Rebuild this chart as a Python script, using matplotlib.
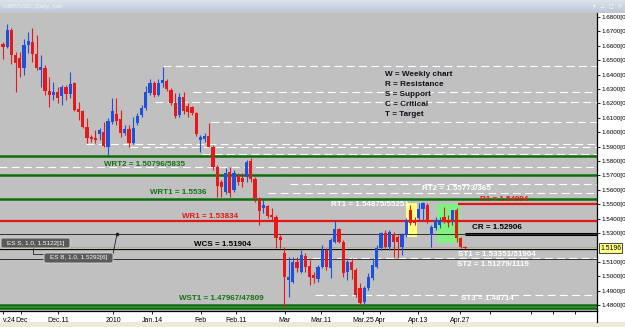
import matplotlib
matplotlib.use("Agg")
import matplotlib.pyplot as plt
from matplotlib.patches import Rectangle, FancyBboxPatch
from matplotlib.lines import Line2D
import numpy as np

plt.rcParams['font.family'] = ['Liberation Sans', 'DejaVu Sans']

# ---------------- data (GBP/USD daily) ----------------
opens = [1.6610, 1.6590, 1.6710, 1.6536, 1.6513, 1.6444, 1.6606, 1.6628, 1.6541, 1.6432,
         1.6448, 1.6286, 1.6258, 1.6277, 1.6253, 1.6316, 1.6263, 1.6340, 1.6159, 1.6147,
         1.6038, 1.5969, 1.5962, 1.5985, 1.6004, 1.5899, 1.6073, 1.6126, 1.6090, 1.5992,
         1.6022, 1.5927, 1.6066, 1.6119, 1.6166, 1.6274, 1.6340, 1.6258, 1.6340, 1.6358,
         1.6293, 1.6201, 1.6119, 1.6247, 1.6182, 1.6173, 1.6131, 1.5946, 1.5951, 1.5974,
         1.5899, 1.5760, 1.5656, 1.5587, 1.5726, 1.5599, 1.5696, 1.5684, 1.5691, 1.5800,
         1.5673, 1.5541, 1.5472, 1.5488, 1.5425, 1.5409, 1.5270, 1.5159, 1.4974, 1.4962,
         1.5101, 1.5031, 1.5140, 1.5071, 1.5008, 1.4979, 1.5066, 1.5182, 1.5055, 1.5240,
         1.5326, 1.5240, 1.5031, 1.5101, 1.5043, 1.4916, 1.4823, 1.4916, 1.4985, 1.5066,
         1.5194, 1.5298, 1.5205, 1.5293, 1.5274, 1.5205, 1.5286, 1.5460, 1.5390, 1.5402,
         1.5465, 1.5494, 1.5286, 1.5335, 1.5356, 1.5409, 1.5385, 1.5390, 1.5460, 1.5263,
         1.5203]
highs = [1.6628, 1.6749, 1.6726, 1.6559, 1.6559, 1.6647, 1.6698, 1.6722, 1.6675, 1.6536,
         1.6467, 1.6385, 1.6351, 1.6316, 1.6328, 1.6328, 1.6416, 1.6349, 1.6212, 1.6154,
         1.6097, 1.5981, 1.6015, 1.6029, 1.6071, 1.6097, 1.6235, 1.6238, 1.6154, 1.6050,
         1.6050, 1.6108, 1.6131, 1.6189, 1.6321, 1.6367, 1.6358, 1.6367, 1.6455, 1.6367,
         1.6305, 1.6270, 1.6270, 1.6281, 1.6201, 1.6182, 1.6142, 1.5981, 1.5992, 1.6062,
         1.5911, 1.5772, 1.5668, 1.5749, 1.5760, 1.5738, 1.5719, 1.5715, 1.5807, 1.5821,
         1.5691, 1.5552, 1.5529, 1.5494, 1.5472, 1.5425, 1.5286, 1.5201, 1.5135, 1.5135,
         1.5135, 1.5182, 1.5159, 1.5113, 1.5031, 1.5078, 1.5217, 1.5194, 1.5263, 1.5390,
         1.5333, 1.5251, 1.5113, 1.5124, 1.5055, 1.4953, 1.4932, 1.5022, 1.5126, 1.5217,
         1.5309, 1.5321, 1.5321, 1.5309, 1.5286, 1.5298, 1.5402, 1.5494, 1.5413, 1.5506,
         1.5517, 1.5506, 1.5356, 1.5411, 1.5413, 1.5483, 1.5425, 1.5460, 1.5472, 1.5274,
         1.5210]
lows = [1.6506, 1.6583, 1.6472, 1.6277, 1.6385, 1.6397, 1.6548, 1.6490, 1.6432, 1.6316,
        1.6258, 1.6177, 1.6224, 1.6201, 1.6189, 1.6224, 1.6235, 1.6147, 1.6085, 1.6029,
        1.5923, 1.5932, 1.5923, 1.5946, 1.5897, 1.5842, 1.6055, 1.6050, 1.5969, 1.5981,
        1.5899, 1.5918, 1.6050, 1.6108, 1.6154, 1.6258, 1.6247, 1.6251, 1.6316, 1.6288,
        1.6189, 1.6097, 1.6108, 1.6126, 1.6108, 1.6119, 1.5974, 1.5865, 1.5934, 1.5895,
        1.5738, 1.5552, 1.5552, 1.5571, 1.5552, 1.5585, 1.5633, 1.5622, 1.5656, 1.5656,
        1.5517, 1.5356, 1.5437, 1.5402, 1.5390, 1.5194, 1.5194, 1.4788, 1.4858, 1.4955,
        1.5031, 1.5020, 1.5031, 1.4939, 1.4955, 1.4962, 1.5055, 1.5043, 1.4985, 1.5228,
        1.5228, 1.4997, 1.4974, 1.4979, 1.4858, 1.4800, 1.4807, 1.4904, 1.4974, 1.5057,
        1.5182, 1.5194, 1.5182, 1.5131, 1.5124, 1.5147, 1.5274, 1.5356, 1.5356, 1.5390,
        1.5390, 1.5367, 1.5201, 1.5321, 1.5335, 1.5367, 1.5344, 1.5356, 1.5240, 1.5194,
        1.5189]
closes = [1.6590, 1.6710, 1.6536, 1.6478, 1.6444, 1.6606, 1.6633, 1.6541, 1.6448, 1.6455,
          1.6286, 1.6258, 1.6281, 1.6240, 1.6316, 1.6265, 1.6335, 1.6154, 1.6142, 1.6038,
          1.5962, 1.5953, 1.5946, 1.6015, 1.5906, 1.6078, 1.6147, 1.6078, 1.5992, 1.6022,
          1.5927, 1.6027, 1.6115, 1.6166, 1.6281, 1.6340, 1.6258, 1.6344, 1.6363, 1.6298,
          1.6201, 1.6113, 1.6247, 1.6149, 1.6142, 1.6131, 1.5988, 1.5965, 1.5974, 1.5899,
          1.5760, 1.5626, 1.5617, 1.5719, 1.5576, 1.5715, 1.5656, 1.5656, 1.5795, 1.5673,
          1.5541, 1.5455, 1.5494, 1.5418, 1.5409, 1.5263, 1.5251, 1.4997, 1.4997, 1.5101,
          1.5055, 1.5147, 1.5066, 1.4997, 1.4985, 1.5066, 1.5182, 1.5062, 1.5251, 1.5326,
          1.5240, 1.5020, 1.5101, 1.5043, 1.4869, 1.4812, 1.4916, 1.4997, 1.5078, 1.5194,
          1.5298, 1.5205, 1.5307, 1.5240, 1.5240, 1.5286, 1.5390, 1.5367, 1.5367, 1.5465,
          1.5506, 1.5379, 1.5344, 1.5390, 1.5390, 1.5385, 1.5367, 1.5460, 1.5263, 1.5205,
          1.5196]

price_ticks = [1.48, 1.49, 1.50, 1.51, 1.53, 1.54, 1.55, 1.56, 1.57, 1.58,
               1.59, 1.60, 1.61, 1.62, 1.63, 1.64, 1.65, 1.66, 1.67, 1.68]
last_price = 1.5196

date_labels = ["v.24", "Dec", "Dec.11", "2010", "Jan.14", "Feb", "Feb.11", "Mar",
               "Mar.11", "Mar.25", "Apr", "Apr.13", "Apr.27"]
date_bars = [0, 4.4, 13.1, 26.2, 35.5, 47.1, 55.5, 67.1, 75.7, 85.7, 89.8, 98.8, 108.8]
extra_ticks = [116, 125.7, 131, 136.2, 141.4]

# weekly levels (solid) and daily levels (dashed)
green_levels = [1.5835, 1.5703, 1.5536, 1.47967, 1.47809]
wr1 = 1.53834
r1 = 1.54994
wcs = 1.51904
cr = 1.52906
order_levels = [1.5292, 1.5122]
dashed_levels = [1.6460, 1.6279, 1.6213, 1.6071, 1.5918, 1.5897, 1.5852, 1.5760,
                 1.5640, 1.55773, 1.51279, 1.48714]
dashed_start_bar = [38.1, 45.2, 36.2, 49.5, 19.8, 30.2, 47.4, -1, 68.3, 63.1, 70.7, 74.3]

# ---------------- figure ----------------
W, H = 625, 327
fig = plt.figure(figsize=(W / 100, H / 100), dpi=100, facecolor="white")

def fx(px):
    return px / W

def fy(py):
    return 1 - py / H

SP = 4.2     # pixels per bar
X0 = 3       # pixel of first bar
ax = fig.add_axes([0, fy(311), fx(597), (311 - 13) / H])
ax.set_facecolor("#c0c0c0")
ax.set_xlim(-X0 / SP, (597 - X0) / SP)
ax.set_ylim(1.68 - (311 - 17) / 1440, 1.68 + 4 / 1440)

def bx(px):
    return (px - X0) / SP

def py2p(py):
    return 1.68 - (py - 17) / 1440

# level lines
for lv, st in zip(dashed_levels, dashed_start_bar):
    ax.hlines(lv, st, 200, colors="white", lw=0.8, linestyles=(0, (7, 4)), zorder=1)
for lv in green_levels:
    ax.axhline(lv, color="#0d6e0d", lw=1.8, zorder=2)
ax.axhline(wr1, color="#e51515", lw=1.6, zorder=2)
ax.hlines(r1, bx(458), 200, colors="#e51515", lw=1.6, zorder=2)
ax.axhline(wcs, color="black", lw=1.6, zorder=2)
ax.hlines(cr, bx(465), 200, colors="black", lw=2.2, zorder=2)
for lv in order_levels:
    ax.axhline(lv, color="#303030", lw=0.7, zorder=2)
ax.axhline(last_price, color="#e8e8a8", lw=0.6, zorder=2)

# highlight boxes
ax.add_patch(Rectangle((bx(406), py2p(237)), bx(417) - bx(406), py2p(203) - py2p(237),
                       facecolor="#ffff80", edgecolor="none", zorder=1.5))
ax.add_patch(Rectangle((bx(437), py2p(243)), bx(460) - bx(437), py2p(204) - py2p(243),
                       facecolor="#80f080", edgecolor="none", zorder=1.5))

# candles
o = np.array(opens); h = np.array(highs); l = np.array(lows); c = np.array(closes)
idx = np.arange(len(o))
up = c >= o
bull, bear = "#1f50dc", "#e81818"
cols = np.where(up, bull, bear)
ax.vlines(idx, l, h, colors=cols, lw=0.8, zorder=3)
body_lo = np.minimum(o, c)
body_h = np.maximum(np.abs(c - o), 0.00014)
ax.bar(idx, body_h, bottom=body_lo, width=0.8, color=cols, edgecolor="none", zorder=4)

# axes styling
for s in ["left", "top"]:
    ax.spines[s].set_visible(False)
ax.spines["right"].set_linewidth(0.9)
ax.spines["bottom"].set_linewidth(0.9)
ax.yaxis.tick_right()
ax.set_yticks(price_ticks)
ax.set_yticklabels([f"{p:.4f}[0" for p in price_ticks])
ax.tick_params(axis="y", length=2.5, width=0.6, labelsize=4.5, pad=0.8, colors="black")
ax.set_xticks(date_bars + extra_ticks)
ax.set_xticklabels(date_labels + [""] * len(extra_ticks))
ax.tick_params(axis="x", length=2.5, width=0.6, labelsize=5, pad=1.5)
ax.get_xticklabels()[0].set_horizontalalignment("left")
ax.get_xticklabels()[0].set_x(-0.7)

# current price label
fig.text(fx(600), fy(248), "1.5196", fontsize=4.9, va="center", ha="left",
         bbox=dict(boxstyle="square,pad=0.15", facecolor="#ffff88", edgecolor="black", lw=0.5))

# right spine extension into label band
fig.add_artist(Line2D([fx(597), fx(597)], [fy(311), fy(322)], color="black", lw=0.9))

# level labels
def lab(px, py, s, color, ha="center"):
    fig.text(fx(px), fy(py), s, color=color, fontsize=5.8, fontweight="bold",
             ha=ha, va="center")

lab(145, 165, "WRT2 = 1.50796/5835", "#137313")
lab(178, 192, "WRT1 = 1.5536", "#137313")
lab(210, 216, "WR1 = 1.53834", "#e51515")
lab(222, 244, "WCS = 1.51904", "black")
lab(221, 299, "WST1 = 1.47967/47809", "#137313")
lab(370, 204, "RT1 = 1.54875/55251", "white")
lab(456, 188, "RT2 = 1.55773/365", "white")
lab(504, 199.5, "R1 = 1.54994", "#e51515")
lab(472, 227.5, "CR = 1.52906", "black", ha="left")
lab(458, 254, "ST1 = 1.53351/51904", "white", ha="left")
lab(457, 265, "ST2 = 1.51279/1119", "white", ha="left")
lab(461, 299, "ST3 = 1.48714", "white", ha="left")

legend_lines = ["W = Weekly chart", "R = Resistance", "S = Support", "C = Critical", "T = Target"]
for i, s in enumerate(legend_lines):
    fig.text(fx(385), fy(75 + i * 9.9), s, color="#101018", fontsize=5.9,
             fontweight="bold", ha="left", va="center")

# order boxes (ES S / ES B)
def obox(x0, y0, x1, y1, s):
    fig.add_artist(FancyBboxPatch((fx(x0), fy(y1)), fx(x1) - fx(x0), fy(y0) - fy(y1),
                                  boxstyle="round,pad=0,rounding_size=0.004",
                                  transform=fig.transFigure, facecolor="#5a5a5a",
                                  edgecolor="#d8d8d8", lw=0.6, zorder=5))
    fig.text(fx((x0 + x1) / 2), fy((y0 + y1) / 2), s, color="white", fontsize=4.6,
             ha="center", va="center", zorder=6)

fig.add_artist(Line2D([fx(33), fx(33), fx(44)], [fy(248), fy(254), fy(254)],
                      color="#202020", lw=0.6, zorder=4))
fig.add_artist(Line2D([fx(113), fx(117)], [fy(254), fy(234)], color="#202020", lw=0.6, zorder=4))
fig.add_artist(Line2D([fx(117)], [fy(234)], marker="o", ms=1.6, color="#202020", zorder=4))
obox(1, 238, 70, 248, "ES S, 1.0, 1.5122[1]")
obox(44, 253, 113, 263, "ES B, 1.0, 1.5292[6]")

# title bar
tb = fig.add_axes([0, fy(13), 1, 13 / H])
grad = np.linspace(0, 1, 20)[:, None]
top_c = np.array([0.86, 0.89, 0.93]); bot_c = np.array([0.74, 0.78, 0.84])
img = top_c[None, None, :] * (1 - grad[..., None]) + bot_c[None, None, :] * grad[..., None]
tb.imshow(np.repeat(img, 2, axis=1), aspect="auto", extent=[0, 1, 0, 1])
tb.set_axis_off()
fig.text(fx(3), fy(6.5), "GBP/USD, Daily, Ask", color="#f2f4f6", fontsize=4.6,
         ha="left", va="center")
fig.text(fx(622), fy(6.5), "▾  ⊥  ◻  ✕", color="#f4f6f8", fontsize=4.2,
         ha="right", va="center", family="DejaVu Sans")

# bottom toolbar strip
fig.add_artist(Rectangle((0, 0), 1, 5 / H, transform=fig.transFigure,
                         facecolor="#ece9d8", edgecolor="none", zorder=0))

fig.savefig("out.png", dpi=100, facecolor="white")
